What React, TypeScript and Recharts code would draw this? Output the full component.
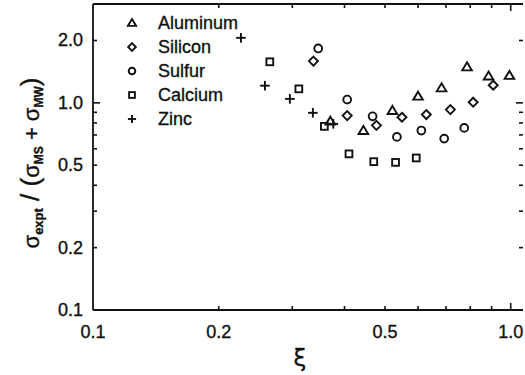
import React from 'react'
import { ScatterChart, Scatter, XAxis, YAxis, Legend } from 'recharts'

const FONT = '"Liberation Sans", Arial, sans-serif'
const INK = '#111'

// xi vs sigma_expt / (sigma_MS + sigma_MW)
const aluminum = [
  { xi: 0.37, ratio: 0.815 }, { xi: 0.444, ratio: 0.735 }, { xi: 0.521, ratio: 0.918 },
  { xi: 0.6, ratio: 1.076 }, { xi: 0.683, ratio: 1.18 }, { xi: 0.786, ratio: 1.49 },
  { xi: 0.885, ratio: 1.345 }, { xi: 0.993, ratio: 1.355 },
]
const silicon = [
  { xi: 0.337, ratio: 1.59 }, { xi: 0.406, ratio: 0.868 }, { xi: 0.477, ratio: 0.779 },
  { xi: 0.549, ratio: 0.852 }, { xi: 0.628, ratio: 0.878 }, { xi: 0.717, ratio: 0.928 },
  { xi: 0.813, ratio: 1.007 }, { xi: 0.908, ratio: 1.216 },
]
const sulfur = [
  { xi: 0.346, ratio: 1.83 }, { xi: 0.406, ratio: 1.037 }, { xi: 0.467, ratio: 0.861 },
  { xi: 0.534, ratio: 0.685 }, { xi: 0.611, ratio: 0.735 }, { xi: 0.693, ratio: 0.672 },
  { xi: 0.774, ratio: 0.757 },
]
const calcium = [
  { xi: 0.265, ratio: 1.578 }, { xi: 0.311, ratio: 1.168 }, { xi: 0.358, ratio: 0.77 },
  { xi: 0.41, ratio: 0.567 }, { xi: 0.47, ratio: 0.52 }, { xi: 0.53, ratio: 0.516 },
  { xi: 0.594, ratio: 0.542 },
]
const zinc = [
  { xi: 0.226, ratio: 2.06 }, { xi: 0.258, ratio: 1.21 }, { xi: 0.296, ratio: 1.045 },
  { xi: 0.336, ratio: 0.895 }, { xi: 0.376, ratio: 0.792 },
]

const X_TICKS = [0.1, 0.2, 0.3, 0.4, 0.5, 0.6, 0.7, 0.8, 0.9, 1.0]
const X_LABELS = [0.1, 0.2, 0.5, 1.0]
const Y_TICKS = [0.1, 0.2, 0.3, 0.4, 0.5, 0.6, 0.7, 0.8, 0.9, 1.0, 2.0]
const Y_LABELS = [0.1, 0.2, 0.5, 1.0, 2.0]

type Kind = 'triangle' | 'diamond' | 'circle' | 'square' | 'plus'

const SERIES: { name: string; kind: Kind; data: { xi: number; ratio: number }[] }[] = [
  { name: 'Aluminum', kind: 'triangle', data: aluminum },
  { name: 'Silicon', kind: 'diamond', data: silicon },
  { name: 'Sulfur', kind: 'circle', data: sulfur },
  { name: 'Calcium', kind: 'square', data: calcium },
  { name: 'Zinc', kind: 'plus', data: zinc },
]

// scanned figure: text looks a bit heavier than plain Liberation Sans
const heavy = { stroke: INK, strokeWidth: 0.35 }

function Marker({ kind, cx, cy, s = 1 }: { kind: Kind; cx: number; cy: number; s?: number }) {
  const p = { fill: 'none', stroke: INK, strokeWidth: 1.9 }
  if (kind === 'triangle')
    return <polygon {...p} points={`${cx},${cy - 4.6 * s} ${cx + 4.8 * s},${cy + 3.4 * s} ${cx - 4.8 * s},${cy + 3.4 * s}`} />
  if (kind === 'diamond')
    return <polygon {...p} points={`${cx},${cy - 4.5 * s} ${cx + 4.5 * s},${cy} ${cx},${cy + 4.5 * s} ${cx - 4.5 * s},${cy}`} />
  if (kind === 'circle') return <circle {...p} cx={cx} cy={cy} r={3.9 * s} />
  if (kind === 'square') return <rect {...p} x={cx - 3.4 * s} y={cy - 3.4 * s} width={6.8 * s} height={6.8 * s} />
  return (
    <g {...p}>
      <line x1={cx - 4.8 * s} x2={cx + 4.8 * s} y1={cy} y2={cy} />
      <line x1={cx} x2={cx} y1={cy - 4.8 * s} y2={cy + 4.8 * s} />
    </g>
  )
}

const tickLen = (v: number) => (v === 1 ? 7 : 4)

const BottomTick = ({ x, y, payload }: any) => {
  const v = payload.value
  return (
    <g>
      {v > 0.1 && <line x1={x} x2={x} y1={y} y2={y - tickLen(v)} stroke={INK} strokeWidth={1.6} />}
      {X_LABELS.includes(v) && (
        <text x={x} y={y + 28} textAnchor="middle" fontFamily={FONT} fontSize={18} fill={INK} {...heavy}>{v.toFixed(1)}</text>
      )}
    </g>
  )
}

const TopTick = ({ x, y, payload }: any) =>
  payload.value > 0.1 ? <line x1={x} x2={x} y1={y} y2={y + tickLen(payload.value)} stroke={INK} strokeWidth={1.6} /> : <g />

const LeftTick = ({ x, y, payload }: any) => {
  const v = payload.value
  return (
    <g>
      {v > 0.1 && <line x1={x} x2={x + tickLen(v)} y1={y} y2={y} stroke={INK} strokeWidth={1.6} />}
      {Y_LABELS.includes(v) && (
        <text x={x - 10} y={y + 6} textAnchor="end" fontFamily={FONT} fontSize={18} fill={INK} {...heavy}>{v.toFixed(1)}</text>
      )}
    </g>
  )
}

const RightTick = ({ x, y, payload }: any) =>
  payload.value > 0.1 ? <line x1={x} x2={x - tickLen(payload.value)} y1={y} y2={y} stroke={INK} strokeWidth={1.6} /> : <g />

const YTitle = ({ viewBox }: any) => {
  const cx = viewBox.x + 39
  const cy = viewBox.y + viewBox.height / 2 + 6
  return (
    <text x={cx} y={cy} transform={`rotate(-90 ${cx} ${cy})`} textAnchor="middle" fontFamily={FONT} fontSize={22} fill={INK} {...heavy}>
      <tspan>σ</tspan>
      <tspan fontSize={13} fontWeight="bold" dy={4}>expt</tspan>
      <tspan dy={-4} fontSize={26}> / (</tspan>
      <tspan>σ</tspan>
      <tspan fontSize={12} fontWeight="bold" dy={4}>MS</tspan>
      <tspan dy={-4}> + </tspan>
      <tspan>σ</tspan>
      <tspan fontSize={12} fontWeight="bold" dy={4}>MW</tspan>
      <tspan dy={-4} fontSize={26}>)</tspan>
    </text>
  )
}

const XTitle = ({ viewBox }: any) => (
  <text x={viewBox.x + viewBox.width / 2 - 8} y={viewBox.y + 56} textAnchor="middle" fontFamily='"DejaVu Sans", sans-serif' fontSize={23} fill={INK} {...heavy}>
    ξ
  </text>
)

const LegendBox = () => (
  <div style={{ fontFamily: FONT, fontSize: 18, color: INK, WebkitTextStroke: '0.35px #111' }}>
    {SERIES.map(s => (
      <div key={s.name} style={{ display: 'flex', alignItems: 'center', height: 24 }}>
        <svg width={38} height={24}>
          <Marker kind={s.kind} cx={12} cy={12} s={0.85} />
        </svg>
        <span>{s.name}</span>
      </div>
    ))}
  </div>
)

export default function App() {
  return (
    <div style={{ position: 'absolute', left: 0, top: 0, background: '#fff' }}>
      <ScatterChart width={525} height={375} margin={{ top: 0, right: 0, bottom: 0, left: 0 }}>
        <XAxis
          xAxisId="bottom" dataKey="xi" type="number" scale="log" domain={[0.1, 1.07]} allowDataOverflow
          ticks={X_TICKS} interval={0} tick={<BottomTick />} tickSize={0} tickMargin={0} tickLine={false}
          axisLine={{ stroke: INK, strokeWidth: 1.8 }} height={65} label={{ content: <XTitle /> }}
        />
        <XAxis
          xAxisId="top" orientation="top" dataKey="xi" type="number" scale="log" domain={[0.1, 1.07]} allowDataOverflow
          ticks={X_TICKS} interval={0} tick={<TopTick />} tickSize={0} tickMargin={0} tickLine={false}
          axisLine={{ stroke: INK, strokeWidth: 1.8 }} height={4}
        />
        <YAxis
          yAxisId="left" dataKey="ratio" type="number" scale="log" domain={[0.1, 3]} allowDataOverflow
          ticks={Y_TICKS} interval={0} tick={<LeftTick />} tickSize={0} tickMargin={0} tickLine={false}
          axisLine={{ stroke: INK, strokeWidth: 1.8 }} width={93} label={{ content: <YTitle /> }}
        />
        <YAxis
          yAxisId="right" orientation="right" dataKey="ratio" type="number" scale="log" domain={[0.1, 3]} allowDataOverflow
          ticks={Y_TICKS} interval={0} tick={<RightTick />} tickSize={0} tickMargin={0} tickLine={false}
          axisLine={false} width={2}
        />
        <Legend
          layout="vertical" align="center" verticalAlign="middle" content={<LegendBox />}
          wrapperStyle={{ position: 'absolute', left: 120, top: 11, width: 'auto' }}
        />
        {SERIES.map(s => (
          <Scatter
            key={s.name} name={s.name} data={s.data} xAxisId="bottom" yAxisId="left" isAnimationActive={false}
            shape={(p: any) => <Marker kind={s.kind} cx={p.cx} cy={p.cy} />}
          />
        ))}
      </ScatterChart>
    </div>
  )
}
